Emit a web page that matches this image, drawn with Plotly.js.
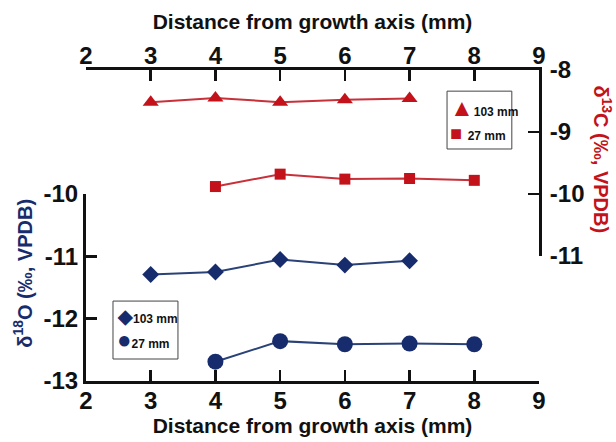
<!DOCTYPE html>
<html>
<head>
<meta charset="utf-8">
<script src="https://cdn.plot.ly/plotly-3.0.1.min.js"></script>
<style>
  html, body { margin: 0; padding: 0; background: #fff; }
  #chart { width: 616px; height: 442px; }
</style>
</head>
<body>
<div id="chart"></div>
<script>
// Distance from the growth axis (mm)
const distC103 = [3, 4, 5, 6, 7];
const distC27  = [4, 5, 6, 7, 8];
const distO103 = [3, 4, 5, 6, 7];
const distO27  = [4, 5, 6, 7, 8];

// δ13C (‰, VPDB)
const d13C_103 = [-8.52, -8.45, -8.52, -8.48, -8.46];
const d13C_27  = [-9.88, -9.68, -9.76, -9.75, -9.78];

// δ18O (‰, VPDB)
const d18O_103 = [-11.29, -11.25, -11.05, -11.14, -11.07];
const d18O_27  = [-12.69, -12.36, -12.41, -12.40, -12.41];

const seriesNames = ['103 mm', '27 mm'];
const xTicks = [2, 3, 4, 5, 6, 7, 8, 9];
const yTicksO = [-13, -12, -11, -10];
const yTicksC = [-11, -10, -9, -8];

const BLUE = '#172c6c';
const BLUE_LINE = '#2a4278';
const RED = '#c4121a';
const RED_LINE = '#c8303a';
const FONT = 'Liberation Sans, Arial, Helvetica, sans-serif';

// connecting line + markers for one series (legend boxes are drawn separately)
function series(x, y, name, color, lineColor, symbol, size, xa, ya) {
  return [
    { x, y, xaxis: xa, yaxis: ya, mode: 'lines', showlegend: false, hoverinfo: 'skip',
      line: { color: lineColor, width: 2 }, cliponaxis: false },
    { x, y, xaxis: xa, yaxis: ya, mode: 'markers', name, showlegend: false,
      marker: { color: color, symbol, size, line: { width: 0 } }, cliponaxis: false }
  ];
}

const traces = [
  ...series(distC103, d13C_103, seriesNames[0], RED, RED_LINE, 'triangle-up', 14, 'x2', 'y2'),
  ...series(distC27,  d13C_27,  seriesNames[1], RED, RED_LINE, 'square', 11, 'x2', 'y2'),
  ...series(distO103, d18O_103, seriesNames[0], BLUE, BLUE_LINE, 'diamond', 13, 'x', 'y'),
  ...series(distO27,  d18O_27,  seriesNames[1], BLUE, BLUE_LINE, 'circle', 16, 'x', 'y')
];

// tick labels use a plain hyphen for negatives
const label = v => String(v);

const tickFont = { family: FONT, size: 24, color: '#111', weight: 'bold' };
const axisCommon = {
  showline: true, linecolor: '#111', linewidth: 3,
  ticks: 'inside', ticklen: 11, tickwidth: 2.5, tickcolor: '#111',
  showgrid: false, zeroline: false, tickfont: tickFont, automargin: false,
  tickmode: 'array'
};
const titleFont = { family: FONT, size: 21, color: '#111', weight: 'bold' };

// one legend row: coloured glyph followed by the series name
function legendRow(x, y, color, glyph, glyphSize, name) {
  return {
    xref: 'paper', yref: 'paper', x, y, xanchor: 'left', yanchor: 'middle',
    showarrow: false, align: 'left',
    text: '<span style="color:' + color + ';font-size:' + glyphSize + 'px">' + glyph + '</span>' + name,
    font: { family: FONT, size: 12, color: '#111', weight: 'bold' }
  };
}
function legendBox(x0, x1, y0, y1) {
  return { type: 'rect', xref: 'paper', yref: 'paper', x0, x1, y0, y1,
           line: { color: '#444', width: 1 }, fillcolor: '#fff', layer: 'above' };
}

const layout = {
  width: 616, height: 442,
  margin: { l: 86, r: 77, t: 70, b: 61 },
  paper_bgcolor: '#fff', plot_bgcolor: 'rgba(0,0,0,0)',
  showlegend: false,
  xaxis: Object.assign({}, axisCommon, {
    range: [2, 9], tickvals: xTicks, ticktext: xTicks.map(label), anchor: 'y', side: 'bottom',
    ticklabelstandoff: -4,
    title: { text: 'Distance from growth axis (mm)', font: titleFont, standoff: 2 }
  }),
  xaxis2: Object.assign({}, axisCommon, {
    range: [2, 9], tickvals: xTicks, ticktext: xTicks.map(label), anchor: 'y2', side: 'top',
    ticklabelstandoff: -7,
    title: { text: 'Distance from growth axis (mm)', font: titleFont, standoff: 8 }
  }),
  yaxis: Object.assign({}, axisCommon, {
    range: [-13, -10], tickvals: yTicksO, ticktext: yTicksO.map(label), anchor: 'x', side: 'left',
    domain: [0, 0.601], ticklabelstandoff: 0
  }),
  yaxis2: Object.assign({}, axisCommon, {
    range: [-11, -8], tickvals: yTicksC, ticktext: yTicksC.map(label), anchor: 'x2', side: 'right',
    domain: [0.402, 1], ticklabelstandoff: 3
  }),
  shapes: [
    legendBox(0.0596, 0.203, 0.0707, 0.257),
    legendBox(0.797, 0.940, 0.746, 0.932)
  ],
  annotations: [
    { xref: 'paper', yref: 'paper', x: -0.139, y: 0.345, xanchor: 'center', yanchor: 'middle',
      textangle: -90, showarrow: false,
      text: 'δ<sup>18</sup>O (‰, VPDB)',
      font: { family: FONT, size: 20, color: BLUE, weight: 'bold' } },
    { xref: 'paper', yref: 'paper', x: 1.141, y: 0.713, xanchor: 'center', yanchor: 'middle',
      textangle: 90, showarrow: false,
      text: 'δ<sup>13</sup>C (‰, VPDB)',
      font: { family: FONT, size: 20, color: RED, weight: 'bold' } },
    legendRow(0.063, 0.206, BLUE, '◆', 19, seriesNames[0]),
    legendRow(0.063, 0.132, BLUE, '●', 24, seriesNames[1]),
    legendRow(0.800, 0.878, RED, '▲', 24, seriesNames[0]),
    legendRow(0.800, 0.797, RED, '■ ', 20, seriesNames[1])
  ]
};

Plotly.newPlot('chart', traces, layout, { displayModeBar: false, staticPlot: true });
</script>
</body>
</html>
